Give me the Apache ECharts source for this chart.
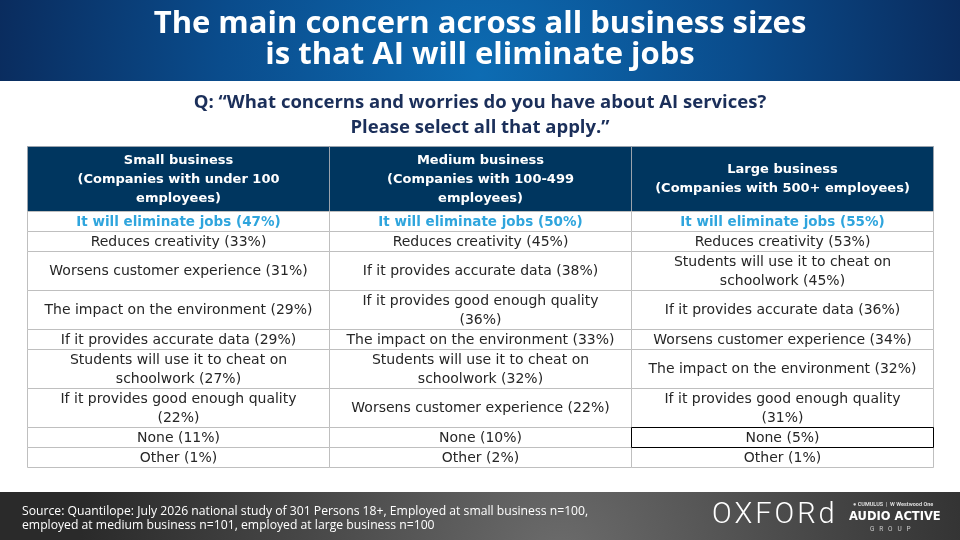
<!DOCTYPE html>
<html>
<head>
<meta charset="utf-8">
<script src="https://cdn.jsdelivr.net/npm/echarts@6/dist/echarts.min.js"></script>
<style>
  html, body { margin: 0; padding: 0; background: #fff; }
  #chart { width: 960px; height: 540px; }
</style>
</head>
<body>
<div id="chart"></div>
<script>
const titleText = "The main concern across all business sizes\nis that AI will eliminate jobs";
const questionText = "Q: \u201cWhat concerns and worries do you have about AI services?\nPlease select all that apply.\u201d";
const sourceText = "Source: Quantilope: July 2026 national study of 301 Persons 18+, Employed at small business n=100,\nemployed at medium business n=101, employed at large business n=100";

const columns = [
  "Small business\n(Companies with under 100\nemployees)",
  "Medium business\n(Companies with 100-499\nemployees)",
  "Large business\n(Companies with 500+ employees)"
];

const smallBusiness = [
  "It will eliminate jobs (47%)",
  "Reduces creativity (33%)",
  "Worsens customer experience (31%)",
  "The impact on the environment (29%)",
  "If it provides accurate data (29%)",
  "Students will use it to cheat on\nschoolwork (27%)",
  "If it provides good enough quality\n(22%)",
  "None (11%)",
  "Other (1%)"
];

const mediumBusiness = [
  "It will eliminate jobs (50%)",
  "Reduces creativity (45%)",
  "If it provides accurate data (38%)",
  "If it provides good enough quality\n(36%)",
  "The impact on the environment (33%)",
  "Students will use it to cheat on\nschoolwork (32%)",
  "Worsens customer experience (22%)",
  "None (10%)",
  "Other (2%)"
];

const largeBusiness = [
  "It will eliminate jobs (55%)",
  "Reduces creativity (53%)",
  "Students will use it to cheat on\nschoolwork (45%)",
  "If it provides accurate data (36%)",
  "Worsens customer experience (34%)",
  "The impact on the environment (32%)",
  "If it provides good enough quality\n(31%)",
  "None (5%)",
  "Other (1%)"
];

// build the cell list: row heights come from the number of text lines
const bodyColumns = [smallBusiness, mediumBusiness, largeBusiness];
const lines = s => s.split("\n").length;
const cells = [];
const cellText = [];
let y = 0;
const headerH = Math.max(...columns.map(lines)) * 0.95 + 0.4;
columns.forEach((c, i) => { cells.push([i, y, y + headerH, 0]); cellText.push(c); });
y += headerH;
for (let r = 0; r < smallBusiness.length; r++) {
  const n = Math.max(...bodyColumns.map(col => lines(col[r])));
  const h = n * 0.95 + 0.05;
  bodyColumns.forEach((col, i) => {
    let kind = r === 0 ? 1 : 2;
    if (i === 2 && r === 7) kind = 3;
    cells.push([i, y, y + h, kind]);
    cellText.push(col[r]);
  });
  y += h;
}
const totalH = y;

const chart = echarts.init(document.getElementById("chart"), null, { renderer: "canvas" });

function renderCell(params, api) {
  const col = api.value(0), y0 = api.value(1), y1 = api.value(2), kind = api.value(3);
  const p0 = api.coord([col, y0]);
  const p1 = api.coord([col + 1, y1]);
  const x = Math.round(p0[0]) + 0.5, top = Math.round(p0[1]) + 0.5;
  const w = Math.round(p1[0]) - Math.round(p0[0]);
  const h = Math.round(p1[1]) - Math.round(p0[1]);
  const isHead = kind === 0;
  const txt = cellText[params.dataIndex];
  return {
    type: "group",
    children: [
      {
        type: "rect",
        shape: { x: x, y: top, width: w, height: h },
        style: {
          fill: isHead ? "#00365f" : "#ffffff",
          stroke: kind === 3 ? "#000000" : (isHead ? "#9aa3ad" : "#bfbfbf"),
          lineWidth: 1
        },
        z2: kind === 3 ? 5 : 1
      },
      {
        type: "text",
        style: {
          text: txt,
          x: x + w / 2,
          y: top + h / 2 + 0.5,
          align: "center",
          verticalAlign: "middle",
          fontFamily: "DejaVu Sans",
          fontSize: isHead ? 13 : (kind === 1 ? 13.5 : 14),
          fontWeight: isHead || kind === 1 ? "bold" : "normal",
          lineHeight: 19,
          fill: isHead ? "#ffffff" : (kind === 1 ? "#2fa5dd" : "#262626")
        },
        z2: 10
      }
    ]
  };
}

chart.setOption({
  animation: false,
  backgroundColor: "#ffffff",
  grid: { left: 27, right: 27, top: 146, bottom: 73 },
  xAxis: { type: "value", min: 0, max: 3, show: false },
  yAxis: { type: "value", min: 0, max: totalH, inverse: true, show: false },
  series: [{
    type: "custom",
    renderItem: renderCell,
    encode: { x: 0, y: [1, 2] },
    data: cells,
    clip: false
  }],
  graphic: [
    {
      type: "rect", z: -1,
      shape: { x: 0, y: 0, width: 960, height: 81 },
      style: {
        fill: new echarts.graphic.RadialGradient(480, 75, 520, [
          { offset: 0, color: "#0d6cb3" },
          { offset: 0.5, color: "#0a4c8c" },
          { offset: 1, color: "#0a2757" }
        ], true)
      }
    },
    {
      type: "text", x: 480, y: 9,
      style: {
        text: titleText, fill: "#ffffff", align: "center", verticalAlign: "top",
        fontFamily: "Open Sans", fontWeight: "bold", fontSize: 31, lineHeight: 31
      }
    },
    {
      type: "text", x: 480, y: 90,
      style: {
        text: questionText, fill: "#1b2f5a", align: "center", verticalAlign: "top",
        fontFamily: "Open Sans", fontWeight: "bold", fontSize: 18.5, lineHeight: 25
      }
    },
    {
      type: "rect", z: -1,
      shape: { x: 0, y: 492, width: 960, height: 48 },
      style: {
        fill: new echarts.graphic.RadialGradient(560, 560, 480, [
          { offset: 0, color: "#6c6c6c" },
          { offset: 0.55, color: "#464646" },
          { offset: 1, color: "#2a2a2a" }
        ], true)
      }
    },
    {
      type: "text", x: 22, y: 504,
      style: {
        text: sourceText, fill: "#ffffff", verticalAlign: "top",
        fontFamily: "Open Sans", fontSize: 12.2, lineHeight: 14.5
      }
    },
    {
      type: "text", x: 712, y: 501,
      style: {
        text: "O\u200aX\u200aF\u200aO\u200aR\u200ad", fill: "#ffffff", verticalAlign: "top",
        fontFamily: "Roboto", fontWeight: 300, fontSize: 29
      }
    },
    {
      type: "text", x: 853, y: 502,
      style: {
        text: "\u25CF CUMULUS  |  W Westwood One", fill: "#dddddd", verticalAlign: "top",
        fontFamily: "Roboto", fontWeight: "bold", fontSize: 5.5
      }
    },
    {
      type: "text", x: 849, y: 511,
      style: {
        text: "AUDIO ACTIVE", fill: "#ffffff", verticalAlign: "top",
        fontFamily: "DejaVu Sans", fontWeight: "bold", fontSize: 11.5
      }
    },
    {
      type: "text", x: 870, y: 526,
      style: {
        text: "G   R   O   U   P", fill: "#cccccc", verticalAlign: "top",
        fontFamily: "Roboto", fontSize: 6.5
      }
    }
  ]
});
</script>
</body>
</html>
